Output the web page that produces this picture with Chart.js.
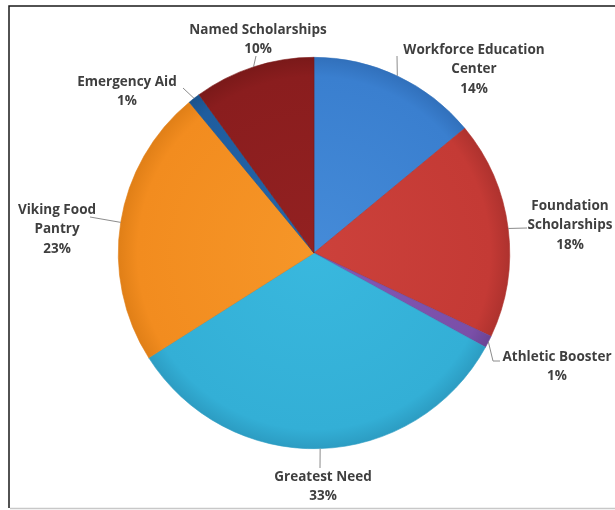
<!DOCTYPE html>
<html>
<head>
<meta charset="utf-8">
<script src="https://cdn.jsdelivr.net/npm/chart.js@4.4.0/dist/chart.umd.min.js"></script>
<style>
  html, body { margin: 0; padding: 0; background: #fff; }
  #wrap { position: relative; width: 615px; height: 510px; }
</style>
</head>
<body>
<div id="wrap"><canvas id="myChart" width="615" height="510"></canvas></div>
<script>
// data
const categorias = ['Workforce Education Center', 'Foundation Scholarships', 'Athletic Booster',
   'Greatest Need', 'Viking Food Pantry', 'Emergency Aid', 'Named Scholarships'];
const porcentajes = [14, 18, 1, 33, 23, 1, 10];

// colours: [centre, body, rim]
const colores = [
   ['#458bd8', '#3a7fcf', '#3170bb'],
   ['#cc413b', '#c43a35', '#ae322e'],
   ['#8558b5', '#7a4fa8', '#6a4494'],
   ['#39b8de', '#33afd6', '#2c9cc2'],
   ['#f69628', '#f28c1f', '#e07f17'],
   ['#2565a8', '#1f5d9e', '#1a528c'],
   ['#932121', '#8a1d1e', '#7a1919']
];

// label layout, pixel offsets from the pie centre
const etiquetas = [
   { tx: 160, ty: -203, wrap: 160, leader: [[83, -197]] },
   { tx: 256, ty: -47, wrap: 90, leader: [[213, -25]] },
   { tx: 243, ty: 104, wrap: 999, leader: [[179, 108], [186, 108]] },
   { tx: 9, ty: 224, wrap: 999, leader: [[6, 215]] },
   { tx: -257, ty: -43, wrap: 95, leader: [[-224, -36]] },
   { tx: -187, ty: -171, wrap: 999, leader: [[-131, -165]] },
   { tx: -56, ty: -223, wrap: 999, leader: [[-58, -197]] }
];

const FONT = 'bold 13.5px "Open Sans", Lato, sans-serif';

const fondo = (ctx) => {
   const chart = ctx.chart;
   const a = chart.chartArea;
   if (!a) return colores[ctx.dataIndex][1];
   const cx = (a.left + a.right) / 2, cy = (a.top + a.bottom) / 2;
   const r = Math.min(a.right - a.left, a.bottom - a.top) / 2;
   const g = chart.ctx.createRadialGradient(cx, cy, 0, cx, cy, r);
   const c = colores[ctx.dataIndex];
   g.addColorStop(0, c[0]);
   g.addColorStop(0.9, c[1]);
   g.addColorStop(1, c[2]);
   return g;
};

const envolver = (ctx, texto, ancho) => {
   const palabras = texto.split(' ');
   const lineas = [];
   let actual = '';
   palabras.forEach(p => {
      const prueba = actual ? actual + ' ' + p : p;
      if (actual && ctx.measureText(prueba).width > ancho) {
         lineas.push(actual);
         actual = p;
      } else {
         actual = prueba;
      }
   });
   if (actual) lineas.push(actual);
   return lineas;
};

const marco = {
   id: 'marco',
   beforeDraw(chart) {
      const ctx = chart.ctx;
      ctx.save();
      ctx.fillStyle = '#fff';
      ctx.fillRect(0, 0, chart.width, chart.height);
      ctx.strokeStyle = '#1a1a1a';
      ctx.lineWidth = 1.5;
      ctx.beginPath();
      ctx.moveTo(chart.width + 2, 6);
      ctx.lineTo(9, 6);
      ctx.lineTo(9, 508);
      ctx.stroke();
      ctx.strokeStyle = '#c8c8c8';
      ctx.beginPath();
      ctx.moveTo(10, 508.5);
      ctx.lineTo(chart.width, 508.5);
      ctx.stroke();
      ctx.restore();
   }
};

const rotulos = {
   id: 'rotulos',
   afterDatasetsDraw(chart) {
      const ctx = chart.ctx;
      const meta = chart.getDatasetMeta(0);
      const total = porcentajes.reduce((s, v) => s + v, 0);
      ctx.save();
      ctx.font = FONT;
      ctx.textAlign = 'center';
      ctx.textBaseline = 'middle';
      meta.data.forEach((arc, i) => {
         const p = arc.getProps(['x', 'y', 'startAngle', 'endAngle', 'outerRadius'], true);
         const mid = (p.startAngle + p.endAngle) / 2;
         const sx = p.x + Math.cos(mid) * p.outerRadius;
         const sy = p.y + Math.sin(mid) * p.outerRadius;
         const e = etiquetas[i];
         ctx.strokeStyle = '#8c8c8c';
         ctx.lineWidth = 1;
         ctx.beginPath();
         ctx.moveTo(sx, sy);
         e.leader.forEach(q => ctx.lineTo(p.x + q[0], p.y + q[1]));
         ctx.stroke();
         const lineas = envolver(ctx, categorias[i], e.wrap);
         lineas.push(Math.round(porcentajes[i] / total * 100) + '%');
         ctx.fillStyle = '#3f3f3f';
         lineas.forEach((l, k) => {
            ctx.fillText(l, p.x + e.tx, p.y + e.ty + k * 19.5);
         });
      });
      ctx.restore();
   }
};

const canva = document.getElementById('myChart');
const myChart = new Chart(canva, {
   type: 'pie',
   data: {
      labels: categorias,
      datasets: [{
         data: porcentajes,
         backgroundColor: fondo,
         borderColor: colores.map(c => c[2]),
         borderWidth: 0.6
      }]
   },
   options: {
      responsive: false,
      animation: false,
      layout: { padding: { left: 118, right: 105, top: 57, bottom: 61 } },
      plugins: {
         legend: { display: false },
         tooltip: { enabled: false }
      }
   },
   plugins: [marco, rotulos]
});
</script>
</body>
</html>
